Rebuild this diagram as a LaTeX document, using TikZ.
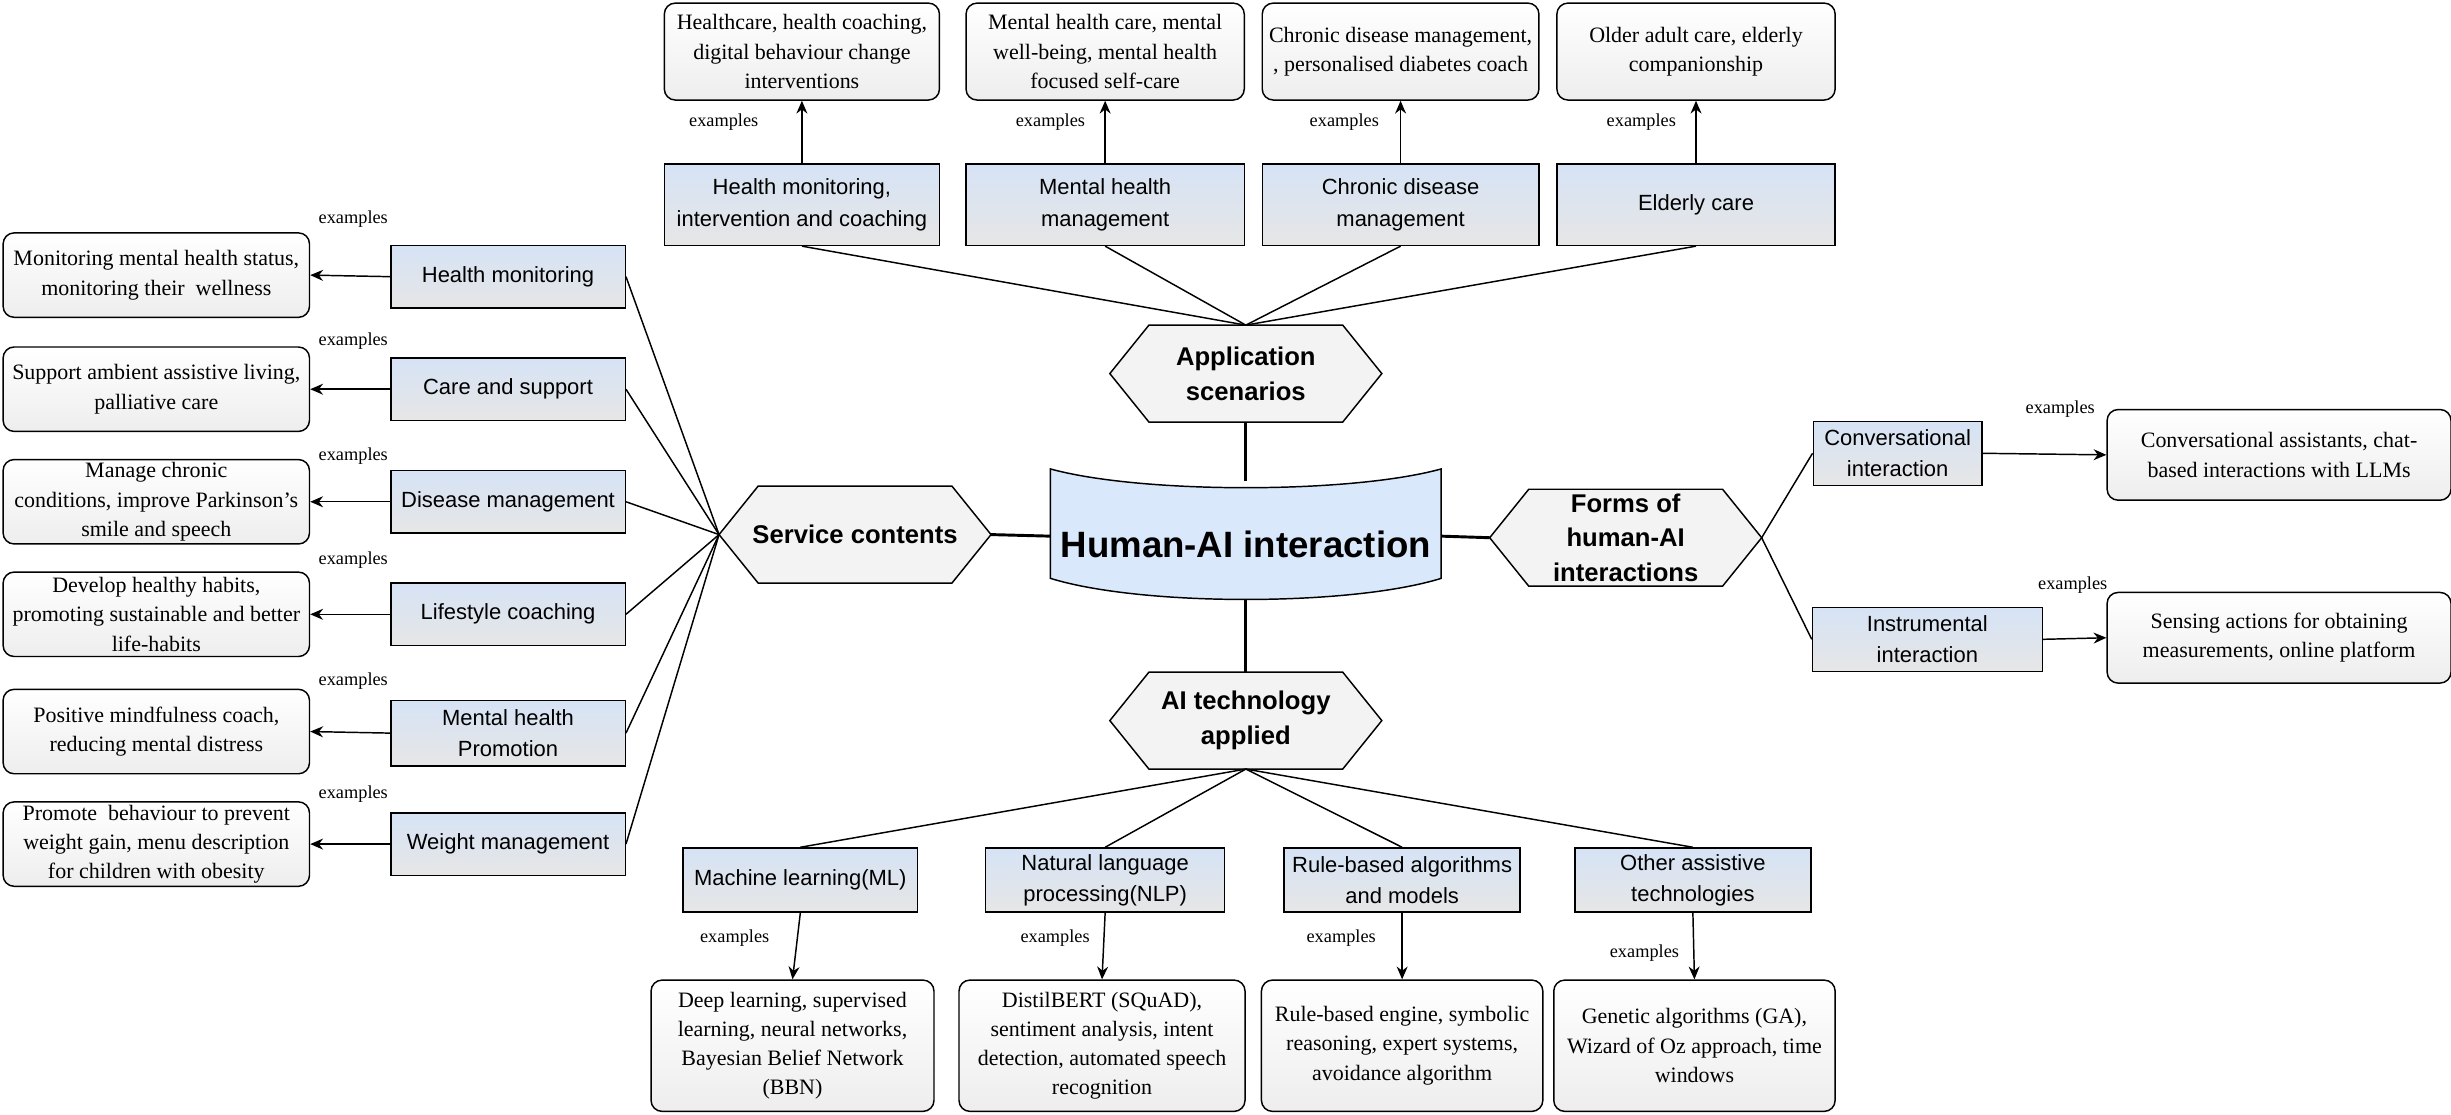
\documentclass[tikz,border=0pt]{standalone}
\usepackage{fontspec}
\setmainfont{Liberation Serif}
\setsansfont{Liberation Sans}
\usetikzlibrary{shapes.geometric,arrows.meta}
\definecolor{bluetop}{HTML}{D6E3F5}
\definecolor{graybot}{HTML}{E6E6E6}
\definecolor{hexfill}{HTML}{F3F3F3}
\definecolor{cylfill}{HTML}{DAE8FC}
\tikzset{
 bbox/.style={draw, thick, rectangle, top color=bluetop, bottom color=graybot, inner sep=1pt,
   font=\sffamily\fontsize{12}{17}\selectfont, align=center},
 ebox/.style={draw, thick, rectangle, rounded corners=6pt, top color=white, bottom color=graybot!70, inner sep=1pt,
   font=\fontsize{12}{16}\selectfont, align=center},
 lab/.style={font=\fontsize{10}{12}\selectfont},
 arr/.style={-{Stealth[length=7pt,width=6pt]}, thick},
 ln/.style={thick},
 hexs/.style={draw, thick, fill=hexfill},
}
\newcommand{\bx}[7]{% style, name, x, y, w, h, text
 \node[#1, minimum width={#5*0.03cm}, minimum height={#6*0.03cm}] (#2) at (#3,#4) {#7};}
\newcommand{\hexa}[4]{% name, cx, cy, text
 \draw[hexs] (#2-87,#3) -- (#2-62,#3-31) -- (#2+62,#3-31) -- (#2+87,#3) -- (#2+62,#3+31) -- (#2-62,#3+31) -- cycle;
 \node[font=\sffamily\bfseries\fontsize{14}{19}\selectfont, align=center] (#1) at (#2,#3) {#4};
 \coordinate (#1-n) at (#2,#3-31); \coordinate (#1-s) at (#2,#3+31);
 \coordinate (#1-w) at (#2-87,#3); \coordinate (#1-e) at (#2+87,#3);}
\begin{document}
\begin{tikzpicture}[x=0.03cm,y=-0.03cm]
\useasboundingbox (0,0) rectangle (1568,713);
% center cylinder
\draw[thick, fill=cylfill] (672,300) .. controls (730,316) and (864,316) .. (922,300) -- (922,370)
  .. controls (864,388) and (730,388) .. (672,370) -- cycle;
\node[font=\sffamily\bfseries\fontsize{20}{24}\selectfont] (hub) at (797,348) {Human-AI interaction};
\coordinate (hub-n) at (797,308); \coordinate (hub-s) at (797,384);
\coordinate (hub-w) at (672,343); \coordinate (hub-e) at (922,343);
% hexagons
\hexa{app}{797}{239}{Application\\scenarios}
\hexa{svc}{547}{342}{Service contents}
\hexa{frm}{1040}{344}{Forms of\\human-AI\\interactions}
\hexa{tec}{797}{461}{AI technology\\applied}
\draw[line width=1.6pt] (hub-n) -- (app-s);
\draw[line width=1.6pt] (hub-s) -- (tec-n);
\draw[line width=1.6pt] (hub-w) -- (svc-e);
\draw[line width=1.6pt] (hub-e) -- (frm-w);
% top
\bx{bbox}{t1}{513}{131}{176}{52}{Health monitoring,\\intervention and coaching}
\bx{bbox}{t2}{707}{131}{178}{52}{Mental health\\management}
\bx{bbox}{t3}{896}{131}{177}{52}{Chronic disease\\management}
\bx{bbox}{t4}{1085}{131}{178}{52}{Elderly care}
\bx{ebox}{te1}{513}{33}{176}{62}{Healthcare, health coaching,\\digital behaviour change\\interventions}
\bx{ebox}{te2}{707}{33}{178}{62}{Mental health care, mental\\well-being, mental health\\focused self-care}
\bx{ebox}{te3}{896}{33}{177}{62}{Chronic disease management,\\, personalised diabetes coach}
\bx{ebox}{te4}{1085}{33}{178}{62}{Older adult care, elderly\\companionship}
\foreach \i/\lx in {1/463,2/672,3/860,4/1050}{
 \draw[arr] (t\i.north) -- (te\i.south);
 \draw[ln] (t\i.south) -- (app-n);
 \node[lab] at (\lx,78) {examples};}
% left
\bx{bbox}{l1}{325}{177}{150}{40}{Health monitoring}
\bx{bbox}{l2}{325}{249}{150}{40}{Care and support}
\bx{bbox}{l3}{325}{321}{150}{40}{Disease management}
\bx{bbox}{l4}{325}{393}{150}{40}{Lifestyle coaching}
\bx{bbox}{l5}{325}{469}{150}{42}{Mental health\\Promotion}
\bx{bbox}{l6}{325}{540}{150}{40}{Weight management}
\bx{ebox}{le1}{100}{176}{196}{54}{Monitoring mental health status,\\monitoring their\ \ wellness}
\bx{ebox}{le2}{100}{249}{196}{54}{Support ambient assistive living,\\palliative care}
\bx{ebox}{le3}{100}{321}{196}{54}{Manage chronic\\conditions, improve Parkinson’s\\smile and speech}
\bx{ebox}{le4}{100}{393}{196}{54}{Develop healthy habits,\\promoting sustainable and better\\life-habits}
\bx{ebox}{le5}{100}{468}{196}{54}{Positive mindfulness coach,\\reducing mental distress}
\bx{ebox}{le6}{100}{540}{196}{54}{Promote\ \ behaviour to prevent\\weight gain, menu description\\for children with obesity}
\foreach \i/\ly in {1/140,2/218,3/292,4/358,5/436,6/508}{
 \draw[arr] (l\i.west) -- (le\i.east);
 \draw[ln] (l\i.east) -- (svc-w);
 \node[lab] at (226,\ly) {examples};}
% right
\bx{bbox}{r1}{1214}{290}{108}{41}{Conversational\\interaction}
\bx{bbox}{r2}{1233}{409}{147}{41}{Instrumental\\interaction}
\bx{ebox}{re1}{1458}{291}{220}{58}{Conversational assistants, chat-\\based interactions with LLMs}
\bx{ebox}{re2}{1458}{408}{220}{58}{Sensing actions for obtaining\\measurements, online platform}
\draw[ln] (frm-e) -- (r1.west); \draw[ln] (frm-e) -- (r2.west);
\draw[arr] (r1.east) -- (re1.west); \draw[arr] (r2.east) -- (re2.west);
\node[lab] at (1318,262) {examples};
\node[lab] at (1326,374) {examples};
% bottom
\bx{bbox}{b1}{512}{563}{150}{41}{Machine learning(ML)}
\bx{bbox}{b2}{707}{563}{153}{41}{Natural language\\processing(NLP)}
\bx{bbox}{b3}{897}{563}{151}{41}{Rule-based algorithms\\and models}
\bx{bbox}{b4}{1083}{563}{151}{41}{Other assistive\\technologies}
\bx{ebox}{be1}{507}{669}{181}{84}{Deep learning, supervised\\learning, neural networks,\\Bayesian Belief Network\\(BBN)}
\bx{ebox}{be2}{705}{669}{183}{84}{DistilBERT (SQuAD),\\sentiment analysis, intent\\detection, automated speech\\recognition}
\bx{ebox}{be3}{897}{669}{180}{84}{Rule-based engine, symbolic\\reasoning, expert systems,\\avoidance algorithm}
\bx{ebox}{be4}{1084}{669}{180}{84}{Genetic algorithms (GA),\\Wizard of Oz approach, time\\windows}
\foreach \i/\lx/\ly in {1/470/600,2/675/600,3/858/600,4/1052/610}{
 \draw[arr] (b\i.south) -- (be\i.north);
 \draw[ln] (tec-s) -- (b\i.north);
 \node[lab] at (\lx,\ly) {examples};}
\end{tikzpicture}
\end{document}
